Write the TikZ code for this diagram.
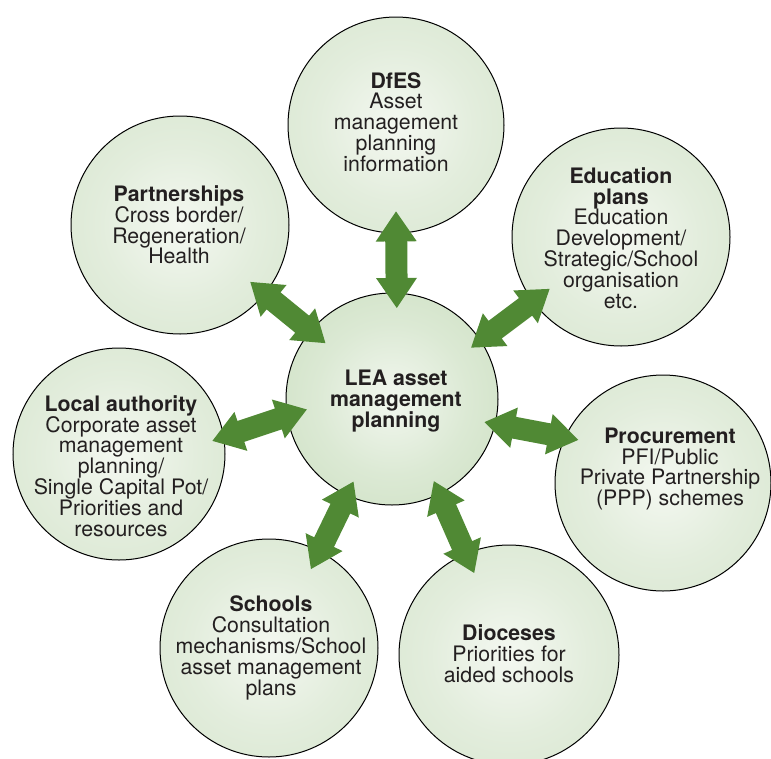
\documentclass[tikz,border=0pt]{standalone}
\usepackage{fontspec}
\setmainfont{TeX Gyre Heros}
\usetikzlibrary{calc}
\definecolor{ballin}{RGB}{244,248,241}
\definecolor{ballout}{RGB}{206,224,196}
\definecolor{leain}{RGB}{242,247,239}
\definecolor{leaout}{RGB}{192,216,179}
\definecolor{arrowgreen}{RGB}{80,137,52}
\definecolor{txt}{RGB}{35,31,32}
\pgfdeclareradialshading{outerball}{\pgfpoint{0bp}{0bp}}{color(0bp)=(ballin); color(18bp)=(ballin!55!ballout); color(50bp)=(ballout)}
\pgfdeclareradialshading{leaball}{\pgfpoint{0bp}{0bp}}{color(0bp)=(leain); color(18bp)=(leain!55!leaout); color(50bp)=(leaout)}
\newcommand\hl{30pt}
\newcommand\hw{20.5pt}
\newcommand\sw{11pt}
\newcommand\dblarr[2]{%
  \path (#1) coordinate (qa) (#2) coordinate (qb);
  \coordinate (ha) at ($(qa)!\hl!(qb)$);
  \coordinate (hb) at ($(qb)!\hl!(qa)$);
  \fill[arrowgreen] (qa) -- ($(ha)!\hw!90:(qb)$) -- ($(ha)!\sw!90:(qb)$)
    -- ($(hb)!\sw!-90:(qa)$) -- ($(hb)!\hw!-90:(qa)$) -- (qb)
    -- ($(hb)!\hw!90:(qa)$) -- ($(hb)!\sw!90:(qa)$)
    -- ($(ha)!\sw!-90:(qb)$) -- ($(ha)!\hw!-90:(qb)$) -- cycle;
}
\begin{document}
\begin{tikzpicture}[x=1pt,y=-1pt,
  ball/.style={circle, draw=black, line width=1pt, shade, shading=outerball, inner sep=0pt, outer sep=0pt, minimum size=#1},
  leaball/.style={circle, draw=black, line width=1pt, shade, shading=leaball, inner sep=0pt, outer sep=0pt, minimum size=#1},
  lbl/.style={align=center, text=txt, inner sep=0pt, font=\fontsize{21.3}{20.8}\selectfont}]
\useasboundingbox (0,0) rectangle (771,758);
% circles
\node[leaball=212pt] (lea) at (392,399) {};
\node[ball=216pt] (dfes) at (396,125) {};
\node[ball=218pt] (part) at (180,225) {};
\node[ball=218pt] (edu) at (621,237) {};
\node[ball=212pt] (la) at (119,454) {};
\node[ball=216pt] (proc) at (663,483) {};
\node[ball=218pt] (sch) at (269,648) {};
\node[ball=220pt] (dioc) at (509,655) {};
% arrows
\dblarr{$(lea)!0.86!(lea.87.5)$}{$(dfes)!0.80!(dfes.-90)$}
\dblarr{$(lea)!0.82!(lea.140)$}{$(part)!0.83!(part.-39)$}
\dblarr{$(lea)!0.89!(lea.33.7)$}{$(edu)!0.81!(edu.216)$}
\dblarr{$(lea)!0.81!(lea.187)$}{$(la)!0.89!(la.8.6)$}
\dblarr{$(lea)!0.90!(lea.-14.5)$}{$(proc)!0.88!(proc.153)$}
\dblarr{$(lea)!0.86!(lea.245.4)$}{$(sch)!0.82!(sch.62.6)$}
\dblarr{$(lea)!0.87!(lea.-63)$}{$(dioc)!0.81!(dioc.113.7)$}
% texts
\node[lbl] (tlea) at (396,401) {\textbf{LEA asset}\\\textbf{management}\\\textbf{planning}};
\node[lbl] (tdfes) at (396,122) {\textbf{DfES}\\Asset\\management\\planning\\information};
\node[lbl] (tpart) at (179,225) {\textbf{Partnerships}\\Cross border/\\Regeneration/\\Health};
\node[lbl] (tedu) at (621,238) {\textbf{Education}\\\textbf{plans}\\Education\\Development/\\Strategic/School\\organisation\\etc.};
\node[lbl] (tla) at (121,466) {\textbf{Local authority}\\Corporate asset\\management\\planning/\\Single Capital Pot/\\Priorities and\\resources};
\node[lbl] (tproc) at (670,469) {\textbf{Procurement}\\PFI/Public\\Private Partnership\\(PPP) schemes};
\node[lbl] (tsch) at (271,648) {\textbf{Schools}\\Consultation\\mechanisms/School\\asset management\\plans};
\node[lbl] (tdioc) at (509,654) {\textbf{Dioceses}\\Priorities for\\aided schools};
\end{tikzpicture}
\end{document}
